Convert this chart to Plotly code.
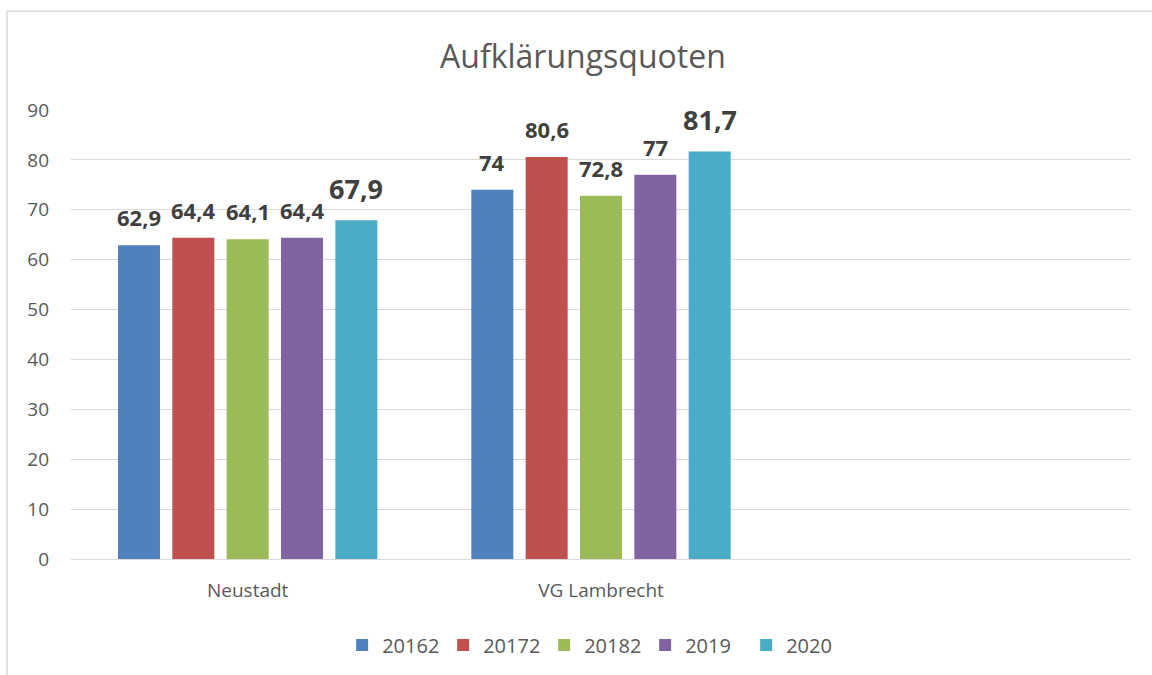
import plotly.graph_objects as go

categories = ["Neustadt", "VG Lambrecht"]
all_categories = ["Neustadt", "VG Lambrecht", " "]
series_names = ["20162", "20172", "20182", "2019", "2020"]
values = {
    "20162": [62.9, 74.0],
    "20172": [64.4, 80.6],
    "20182": [64.1, 72.8],
    "2019": [64.4, 77.0],
    "2020": [67.9, 81.7],
}
colors = ["#4F81BD", "#C0504D", "#9BBB59", "#8064A2", "#4BACC6"]
label_sizes = [22, 22, 22, 22, 27]
y_ticks = list(range(0, 91, 10))

FONT = "Open Sans"
SLOT_PX = 54.3  # pixel width of one bar slot inside a group

def fmt(v):
    return f"{v:g}".replace(".", ",")

fig = go.Figure()
for i, (name, col, ls) in enumerate(zip(series_names, colors, label_sizes)):
    vals = values[name]
    fig.add_trace(go.Bar(
        name=name, x=categories, y=vals,
        marker=dict(color=col, line=dict(width=0)),
    ))
    for cat, v in zip(categories, vals):
        fig.add_annotation(
            x=cat, y=v, xref="x", yref="y", text=f"<b>{fmt(v)}</b>",
            showarrow=False, xanchor="center", yanchor="bottom",
            xshift=(i - 2) * SLOT_PX, yshift=11,
            font=dict(family=FONT, size=ls, color="#404040"),
        )

fig.update_layout(
    width=1152, height=675,
    margin=dict(l=71, r=21, t=110, b=115),
    paper_bgcolor="white", plot_bgcolor="white",
    barmode="group", bargap=0.231, bargroupgap=0.227,
    title=dict(text="Aufklärungsquoten", x=0.506, xanchor="center", y=1 - 57 / 675, yanchor="middle",
               font=dict(family=FONT, size=32, color="#595959")),
    font=dict(family=FONT, color="#595959"),
    legend=dict(orientation="h", x=0.494, xanchor="center", y=-(645 - 560) / 450, yanchor="middle",
                font=dict(family=FONT, size=20, color="#595959"), itemwidth=30,
                entrywidth=56, entrywidthmode="pixels", traceorder="normal"),
    xaxis=dict(type="category", categoryorder="array", categoryarray=all_categories,
               range=[-0.5, 2.5], showgrid=False, showline=False, ticks="",
               ticklabelstandoff=18,
               tickfont=dict(family=FONT, size=19, color="#595959")),
    yaxis=dict(range=[0, 90], tickvals=y_ticks, showgrid=True, gridcolor="#D9D9D9",
               gridwidth=1.3, zeroline=True, zerolinecolor="#D9D9D9", zerolinewidth=1.3,
               showline=False, ticks="", ticklabelstandoff=21,
               tickfont=dict(family=FONT, size=19, color="#595959")),
)
fig.add_shape(type="rect", xref="paper", yref="paper",
              x0=(7 - 71) / 1060, x1=1.2, y0=-0.6, y1=(560 - 11) / 450,
              line=dict(color="#D9D9D9", width=1.5), fillcolor="rgba(0,0,0,0)", layer="below")

fig.write_html("out.html", config={"displayModeBar": False},
               post_script="document.body.style.margin='0';document.body.style.overflow='hidden';")
